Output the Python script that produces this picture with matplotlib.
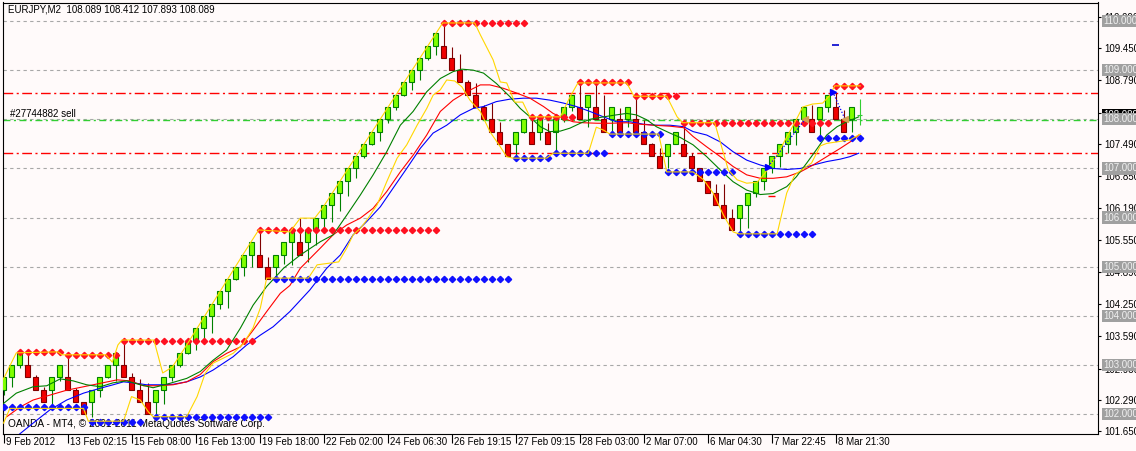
import matplotlib
matplotlib.use('Agg')
import matplotlib.pyplot as plt
from matplotlib import transforms

plt.rcParams['font.family'] = ['Liberation Sans', 'DejaVu Sans']

# renko bars EURJPY M2
opens = [102.50, 102.75, 103.00, 103.00, 102.75, 102.50, 102.50, 102.75, 102.75, 102.50,
         102.25, 102.25, 102.50, 102.75, 103.00, 103.00, 102.75, 102.50, 102.25, 102.25,
         102.50, 102.75, 103.00, 103.25, 103.50, 103.75, 104.00, 104.25, 104.50, 104.75,
         105.00, 105.25, 105.25, 105.00, 105.00, 105.25, 105.50, 105.50, 105.50, 105.75,
         106.00, 106.25, 106.50, 106.75, 107.00, 107.25, 107.50, 107.75, 108.00, 108.25,
         108.50, 108.75, 109.00, 109.25, 109.50, 109.50, 109.25, 109.00, 108.75, 108.50,
         108.25, 108.00, 107.75, 107.50, 107.50, 107.75, 107.75, 107.75, 107.75, 107.75,
         108.00, 108.25, 108.25, 108.25, 108.25, 108.00, 108.00, 108.00, 108.00, 108.00,
         107.75, 107.50, 107.25, 107.25, 107.50, 107.50, 107.25, 107.00, 106.75, 106.50,
         106.25, 106.00, 106.00, 106.25, 106.50, 106.75, 107.00, 107.25, 107.50, 107.75,
         108.00, 108.00, 108.00, 108.25, 108.25, 108.00, 108.00, 108.089]
closes = [102.75, 103.00, 103.25, 102.75, 102.50, 102.25, 102.75, 103.00, 102.50, 102.25,
          102.00, 102.50, 102.75, 103.00, 103.25, 102.75, 102.50, 102.25, 102.00, 102.50,
          102.75, 103.00, 103.25, 103.50, 103.75, 104.00, 104.25, 104.50, 104.75, 105.00,
          105.25, 105.50, 105.00, 104.75, 105.25, 105.50, 105.75, 105.25, 105.75, 106.00,
          106.25, 106.50, 106.75, 107.00, 107.25, 107.50, 107.75, 108.00, 108.25, 108.50,
          108.75, 109.00, 109.25, 109.50, 109.75, 109.25, 109.00, 108.75, 108.50, 108.25,
          108.00, 107.75, 107.50, 107.25, 107.75, 108.00, 107.50, 108.00, 107.50, 108.00,
          108.25, 108.50, 108.00, 108.50, 108.00, 107.75, 108.25, 107.75, 108.25, 107.75,
          107.50, 107.25, 107.00, 107.50, 107.75, 107.25, 107.00, 106.75, 106.50, 106.25,
          106.00, 105.75, 106.25, 106.50, 106.75, 107.00, 107.25, 107.50, 107.75, 108.00,
          108.25, 107.75, 108.25, 108.50, 108.00, 107.75, 108.25, 108.089]
highs = [102.75, 103.00, 103.25, 103.22, 102.80, 102.56, 102.75, 103.00, 103.22, 102.53,
         102.26, 102.50, 102.75, 103.00, 103.25, 103.50, 102.84, 102.72, 102.63, 102.50,
         102.75, 103.00, 103.25, 103.50, 103.75, 104.00, 104.25, 104.50, 104.75, 105.00,
         105.25, 105.50, 105.76, 105.20, 105.25, 105.50, 105.75, 106.00, 105.75, 106.00,
         106.25, 106.50, 106.75, 107.00, 107.25, 107.50, 107.75, 108.00, 108.25, 108.50,
         108.75, 109.00, 109.25, 109.50, 109.75, 109.97, 109.48, 109.32, 108.80, 108.73,
         108.30, 108.33, 107.95, 107.50, 107.75, 108.00, 107.99, 108.00, 107.92, 108.00,
         108.25, 108.50, 108.73, 108.50, 108.73, 108.50, 108.25, 108.24, 108.25, 108.46,
         107.99, 107.51, 107.41, 107.50, 107.75, 107.90, 107.31, 107.00, 106.75, 106.69,
         106.69, 106.18, 106.25, 106.50, 106.75, 107.00, 107.25, 107.50, 107.75, 108.00,
         108.25, 108.29, 108.25, 108.50, 108.53, 108.19, 108.25, 108.412]
lows = [102.40, 102.56, 102.95, 102.75, 102.50, 102.25, 102.21, 102.67, 102.50, 102.25,
        102.00, 101.95, 102.36, 102.73, 102.67, 102.75, 102.50, 102.25, 102.00, 102.00,
        102.21, 102.67, 102.97, 103.22, 103.31, 103.50, 103.65, 104.15, 104.16, 104.74,
        104.81, 105.00, 105.00, 104.75, 104.81, 105.06, 105.04, 105.25, 105.10, 105.44,
        105.78, 105.92, 106.14, 106.43, 106.81, 107.21, 107.48, 107.56, 107.92, 108.19,
        108.48, 108.60, 108.79, 109.20, 109.31, 109.25, 109.00, 108.75, 108.50, 108.25,
        108.00, 107.75, 107.50, 107.25, 107.24, 107.73, 107.50, 107.58, 107.50, 107.31,
        107.95, 108.16, 108.00, 107.85, 108.00, 107.75, 107.75, 107.75, 107.85, 107.75,
        107.50, 107.25, 107.00, 107.00, 107.50, 107.25, 107.00, 106.75, 106.50, 106.25,
        106.00, 105.75, 105.71, 105.79, 106.42, 106.56, 106.90, 107.03, 107.31, 107.48,
        107.88, 107.75, 107.68, 108.14, 108.00, 107.75, 107.75, 107.893]

# moving averages, read at bar positions
green_ma_x = [0, 1.6, 3.7, 5.4, 7.1, 8.7, 10.4, 12.1, 13.7, 15.4, 17.1, 18.7, 20.8, 22.9, 24.6,
              26.2, 27.9, 29.6, 31.2, 32.9, 35.0, 37.1, 39.6, 41.2, 42.9, 44.6, 46.2, 47.9, 49.6,
              51.2, 52.9, 54.6, 56.2, 57.3, 58.7, 60.0, 61.6, 63.3, 64.6, 65.8, 67.1, 68.3, 69.6,
              70.8, 72.1, 73.3, 75.0, 76.6, 77.9, 79.1, 80.4, 81.6, 83.3, 84.6, 86.2, 87.9, 89.6,
              91.2, 92.9, 94.6, 96.2, 97.9, 99.1, 100.4, 101.6, 102.9, 104.2, 105.4, 106.9]
green_ma = [102.22, 102.43, 102.56, 102.58, 102.72, 102.68, 102.60, 102.56, 102.64, 102.68,
            102.60, 102.54, 102.63, 102.73, 102.87, 103.10, 103.31, 103.75, 104.22, 104.60,
            104.97, 105.24, 105.51, 105.65, 106.05, 106.46, 106.87, 107.34, 107.88, 108.16,
            108.56, 108.83, 108.97, 109.02, 109.00, 108.94, 108.73, 108.46, 108.22, 108.05,
            107.85, 107.75, 107.76, 107.82, 107.92, 108.00, 108.05, 108.09, 108.12, 108.09,
            107.99, 107.85, 107.72, 107.63, 107.48, 107.24, 106.97, 106.73, 106.56, 106.47,
            106.49, 106.63, 106.83, 107.11, 107.38, 107.68, 107.85, 107.95, 108.05]
red_ma_x = [0.4, 2.1, 3.7, 5.8, 7.9, 10.0, 12.1, 14.2, 15.8, 17.5, 19.2, 21.2, 22.9, 24.6, 26.2,
            27.9, 29.6, 31.2, 32.9, 34.6, 35.8, 37.1, 39.6, 41.2, 42.9, 44.6, 46.2, 47.9, 49.6,
            51.2, 52.9, 54.6, 56.2, 57.9, 59.6, 60.8, 62.5, 64.2, 65.8, 67.5, 68.7, 70.0, 71.2,
            72.5, 74.2, 75.8, 77.9, 79.6, 81.2, 83.3, 85.0, 86.2, 87.9, 89.6, 91.2, 92.9, 94.6,
            96.2, 97.9, 99.6, 101.2, 102.9, 104.6, 106.2, 106.9]
red_ma = [101.95, 102.15, 102.29, 102.39, 102.49, 102.56, 102.63, 102.70, 102.68, 102.58,
          102.58, 102.60, 102.66, 102.81, 103.07, 103.24, 103.37, 103.71, 104.09, 104.46,
          104.62, 104.97, 105.38, 105.65, 105.85, 105.99, 106.19, 106.53, 106.93, 107.27,
          107.68, 108.16, 108.39, 108.56, 108.70, 108.70, 108.63, 108.53, 108.43, 108.26,
          108.12, 108.02, 107.95, 107.93, 107.92, 107.92, 107.93, 107.90, 107.88, 107.86,
          107.83, 107.65, 107.44, 107.24, 107.04, 106.87, 106.80, 106.80, 106.83, 106.93,
          107.07, 107.24, 107.41, 107.58, 107.68]
blue_ma_x = [0.5, 2.1, 3.7, 5.8, 7.9, 10.0, 12.1, 13.7, 15.0, 16.2, 17.9, 19.6, 21.2, 22.9,
             24.6, 26.2, 28.7, 30.4, 32.1, 33.7, 35.8, 38.3, 40.4, 42.1, 43.7, 45.4, 47.1, 48.7,
             50.4, 52.1, 53.7, 55.4, 57.1, 58.7, 60.0, 61.6, 63.3, 65.0, 66.6, 68.3, 70.0, 71.6,
             73.3, 75.0, 76.6, 78.3, 80.0, 81.6, 83.3, 85.0, 86.2, 87.9, 89.6, 91.2, 92.9, 94.6,
             96.2, 97.9, 99.6, 101.2, 102.9, 104.6, 105.8, 106.9]
blue_ma = [101.40, 101.61, 101.82, 102.09, 102.29, 102.43, 102.53, 102.60, 102.66, 102.64,
           102.60, 102.60, 102.61, 102.66, 102.76, 102.90, 103.17, 103.41, 103.61, 103.78,
           104.09, 104.53, 104.97, 105.24, 105.65, 105.92, 106.22, 106.60, 107.00, 107.41,
           107.72, 107.88, 108.09, 108.22, 108.26, 108.36, 108.41, 108.43, 108.43, 108.39,
           108.33, 108.26, 108.16, 108.05, 107.95, 107.95, 107.90, 107.88, 107.88, 107.85,
           107.75, 107.68, 107.54, 107.34, 107.17, 107.07, 107.00, 106.98, 107.00, 107.07,
           107.14, 107.19, 107.24, 107.31]

# yellow channel lines
upper_ch_x = [0, 1.6, 6.8, 7.3, 12.8, 13.6, 14.3, 14.8, 18.8, 19.9, 21.1, 22.9, 29.9, 31.9,
              35.8, 37.1, 38.9, 39.9, 54.9, 58.9, 59.6, 61.2, 62.1, 62.9, 63.9, 64.9, 65.8,
              69.6, 70.8, 71.8, 77.9, 78.8, 82.9, 84.2, 84.9, 88.9, 89.8, 90.6, 91.7, 92.9,
              94.2, 95.2, 96.7, 97.9, 98.9, 99.9, 101.1, 102.4, 103.3, 103.9, 107.1]
upper_ch = [102.72, 103.25, 103.27, 103.21, 103.21, 103.06, 103.41, 103.51, 103.51, 102.84,
            102.96, 103.41, 105.24, 105.75, 105.71, 105.99, 105.99, 106.20, 109.96, 109.96,
            109.72, 109.21, 108.76, 108.74, 108.35, 108.35, 108.05, 108.05, 108.45, 108.74,
            108.74, 108.47, 108.47, 108.05, 107.93, 107.93, 107.42, 106.97, 106.77, 106.70,
            106.72, 106.91, 107.27, 107.64, 107.93, 108.25, 108.31, 108.33, 108.49, 108.68,
            108.68]
lower_ch_x = [0, 0.8, 10.0, 10.6, 15.0, 16.0, 17.1, 18.1, 18.7, 22.9, 24.2, 25.2, 26.2, 28.7,
              30.0, 31.2, 32.1, 32.9, 38.1, 39.2, 41.9, 42.9, 43.7, 44.6, 45.4, 46.7, 47.9,
              49.2, 50.4, 51.7, 52.9, 53.7, 54.6, 55.4, 56.4, 57.3, 58.3, 59.6, 60.8, 62.1,
              62.9, 63.7, 67.9, 68.7, 73.1, 74.1, 75.0, 75.8, 81.9, 82.5, 82.9, 86.2, 87.5,
              88.7, 90.0, 91.2, 91.9, 96.7, 97.1, 97.9, 98.9, 100.0, 101.0, 102.1, 102.9,
              105.8, 107.1]
lower_ch = [101.82, 102.12, 102.12, 101.86, 101.86, 102.36, 102.29, 102.05, 101.95, 101.95,
            102.36, 102.83, 103.04, 103.24, 103.44, 103.76, 104.16, 104.77, 104.77, 105.04,
            105.10, 105.38, 105.65, 105.78, 105.95, 106.26, 106.73, 107.21, 107.48, 107.88,
            108.22, 108.49, 108.60, 108.80, 108.78, 108.66, 108.39, 108.16, 107.75, 107.44,
            107.24, 107.21, 107.21, 107.31, 107.31, 107.84, 107.78, 107.70, 107.70, 107.24,
            106.93, 106.93, 106.77, 106.50, 106.05, 105.71, 105.67, 105.67, 105.95, 106.50,
            106.87, 107.00, 107.11, 107.46, 107.51, 107.58, 107.70]

# resistance / support levels (diamonds)
res_levels = [103.26, 103.21, 103.50, 105.75, 109.95, 108.04, 108.75, 108.47, 107.93, 108.68]
res_from = [2, 8, 15, 32, 55, 66, 72, 79, 85, 104]
res_to = [7, 14, 31, 54, 65, 71, 78, 84, 103, 107]
sup_levels = [102.14, 101.85, 101.94, 104.75, 107.21, 107.31, 107.70, 106.92, 105.67, 107.63]
sup_from = [0, 11, 19, 34, 64, 69, 76, 83, 92, 102]
sup_to = [10, 17, 33, 63, 68, 75, 82, 91, 101, 107]

# trades
buy_arrow_x = [95.6, 103.65]
buy_arrow_y = [107.04, 108.56]
close_x = [100.2, 105.2]
close_y = [108.00, 108.00]

round_levels = [102, 103, 104, 105, 106, 107, 108, 109, 110]
price_ticks = [101.65, 102.29, 102.93, 103.59, 104.25, 104.89, 105.55, 106.19, 106.85,
               107.49, 108.13, 108.79, 109.45, 110.09]
time_bars = [0, 8, 16, 24, 32, 40, 48, 56, 64, 72, 80, 88, 96, 104]
time_labels = ['9 Feb 2012', '13 Feb 02:15', '15 Feb 08:00', '16 Feb 13:00', '19 Feb 18:00',
               '22 Feb 02:00', '24 Feb 06:30', '26 Feb 19:15', '27 Feb 09:15', '28 Feb 03:00',
               '2 Mar 07:00', '6 Mar 04:30', '7 Mar 22:45', '8 Mar 21:30']

order_price = 107.98
sl_tp = [108.53, 107.31]
bid = 108.089
title = 'EURJPY,M2  108.089 108.412 107.893 108.089'

bg = '#fffafa'
fig = plt.figure(figsize=(11.36, 4.51), dpi=100, facecolor=bg)
ax = fig.add_axes([2.5 / 1136, 17 / 451, 1095.5 / 1136, 431.5 / 451])
ax.set_facecolor(bg)
ax.set_xlim(-0.125, 136.81)
ax.set_ylim(101.599, 110.376)

# grid
for lvl in round_levels:
    ax.axhline(lvl, color='#a8a8a8', lw=0.8, ls=(0, (3, 3)), zorder=1)

# order lines
for lvl in sl_tp:
    ax.axhline(lvl, color='#ff0000', lw=1.0, ls=(0, (7, 2.5, 1.5, 2.5)), zorder=1.5)
ax.axhline(order_price, color='#32cd32', lw=1.0, ls=(0, (5, 2.5, 1.5, 2.5)), zorder=1.5)
ax.text(8 / 1095.5, order_price + 0.03, '#27744882 sell', fontsize=7, va='bottom', ha='left',
        transform=transforms.blended_transform_factory(ax.transAxes, ax.transData), zorder=2)

# candles
n = len(opens)
for i in range(n):
    o, c, h, l = opens[i], closes[i], highs[i], lows[i]
    if i == n - 1:
        ax.vlines(i, l, h, color='#32cd32', lw=0.8, zorder=3)
        ax.hlines(c, i - 0.3, i + 0.3, color='#32cd32', lw=0.8, zorder=3)
        continue
    if c >= o:
        ax.vlines(i, l, h, color='#008000', lw=0.8, zorder=3)
        ax.bar(i, c - o, bottom=o, width=0.64, color='#80ff00', edgecolor='#008000', lw=0.8, zorder=4)
    else:
        ax.vlines(i, l, h, color='#800000', lw=0.8, zorder=3)
        ax.bar(i, o - c, bottom=c, width=0.64, color='#f00000', edgecolor='#800000', lw=0.8, zorder=4)

# moving averages
ax.plot(blue_ma_x, blue_ma, color='#0000ff', lw=0.8, zorder=5)
ax.plot(red_ma_x, red_ma, color='#ff0000', lw=0.8, zorder=5)
ax.plot(green_ma_x, green_ma, color='#008000', lw=0.8, zorder=5)

# levels
for lvl, a, b in zip(res_levels, res_from, res_to):
    xs = list(range(a, b + 1))
    ax.plot(xs, [lvl] * len(xs), 'D', ms=3.2, color='#ff1020', mec='#ff1020', zorder=6)
for lvl, a, b in zip(sup_levels, sup_from, sup_to):
    xs = list(range(a, b + 1))
    ax.plot(xs, [lvl] * len(xs), 'D', ms=3.2, color='#1010ff', mec='#1010ff', zorder=6)

ax.plot(upper_ch_x, upper_ch, color='#ffd700', lw=0.8, zorder=7)
ax.plot(lower_ch_x, lower_ch, color='#ffd700', lw=0.8, zorder=7)

# trade arrows
for bx, by, cx, cy in zip(buy_arrow_x, buy_arrow_y, close_x, close_y):
    ax.plot([bx, cx], [by, cy], color='#0000ff', lw=0.9, ls=(0, (1, 1.5)), zorder=8)
ax.plot(buy_arrow_x, buy_arrow_y, '>', ms=5, color='#0000ff', zorder=9)
ax.plot(close_x, close_y, '<', ms=5, color='#d4a050', zorder=9)
ax.hlines(109.51, 103.5, 104.4, color='#0000cd', lw=1.2, zorder=8)
ax.hlines(106.44, 95.6, 96.4, color='#ff0000', lw=1.0, zorder=8)

# axes style
for sp in ax.spines.values():
    sp.set_color('black')
    sp.set_linewidth(0.8)
ax.yaxis.tick_right()
ax.set_yticks(price_ticks)
ax.set_yticklabels(['%.3f' % v for v in price_ticks])
ax.tick_params(axis='y', length=2.2, width=0.8, pad=2, labelsize=7, colors='black')
ax.set_xticks(time_bars)
ax.set_xticklabels(time_labels)
ax.tick_params(axis='x', length=6.5, width=0.8, pad=-4.5, labelsize=7, colors='black')
shift = transforms.ScaledTranslation(2 / 100, 0, fig.dpi_scale_trans)
for lab in ax.get_xticklabels():
    lab.set_ha('left')
    lab.set_transform(lab.get_transform() + shift)

ytr = transforms.blended_transform_factory(ax.transAxes, ax.transData)
# current bid label
ax.text(1.0045, bid, '%.3f' % bid, transform=ytr, fontsize=7, va='center', ha='left', color='white',
        bbox=dict(boxstyle='square,pad=0.12', fc='black', ec='none'), clip_on=False, zorder=10)
for lvl in round_levels:
    ax.text(1.0045, lvl, '%.3f' % lvl, transform=ytr, fontsize=7, va='center', ha='left',
            color='#f0f0f0', bbox=dict(boxstyle='square,pad=0.12', fc='#a0a0a0', ec='none'),
            clip_on=False, zorder=11)

fig.text(8 / 1136, 1 - 10 / 451, title, fontsize=7, va='center', ha='left')
ax.text(5 / 1095.5, 101.80, 'OANDA - MT4, \u00a9 2001-2011 MetaQuotes Software Corp.', fontsize=7.3,
        transform=ytr, va='center', ha='left', zorder=1)

fig.savefig('out.png', dpi=100, facecolor=bg)
